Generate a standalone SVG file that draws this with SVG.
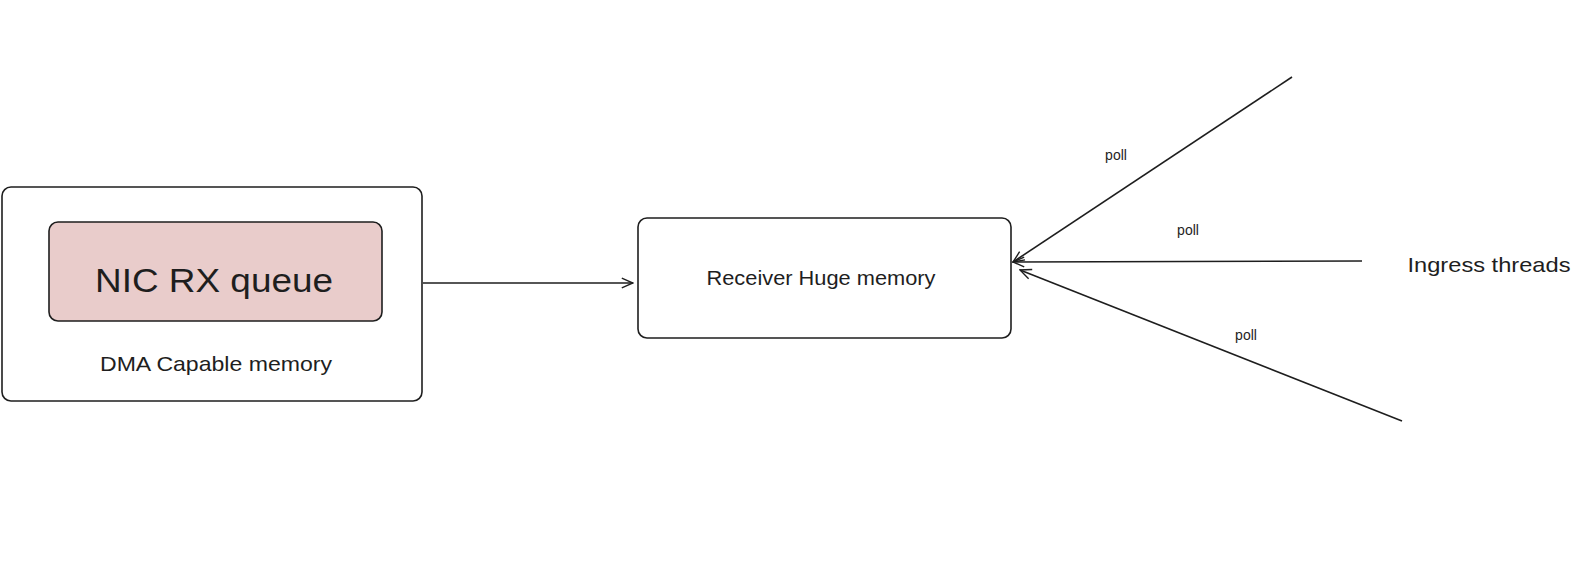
<svg xmlns="http://www.w3.org/2000/svg" width="1582" height="569" viewBox="0 0 1582 569">
<style>
.box{fill:#ffffff;stroke:#1e1e1e;stroke-width:1.6}
.t{font-family:"Liberation Sans",Arial,sans-serif;fill:#1e1e1e;text-anchor:middle}
.c{stroke:#1e1e1e;stroke-width:1.6;fill:none}
</style>
<defs>
<marker id="ah" viewBox="0 0 20 20" refX="18" refY="10" markerWidth="14" markerHeight="14" markerUnits="userSpaceOnUse" orient="auto">
<path d="M2,3 L18,10 L2,17" fill="none" stroke="#1e1e1e" stroke-width="2"/>
</marker>
</defs>
<rect width="1582" height="569" fill="#ffffff"/>
<g id="dma-node">
<rect class="box" x="2" y="187" width="420" height="214" rx="9"/>
<text class="t" x="216" y="371" font-size="21" textLength="232" lengthAdjust="spacingAndGlyphs">DMA Capable memory</text>
</g>
<g id="nic-node">
<rect x="49" y="222" width="333" height="99" rx="9" fill="#e9cccb" stroke="#1e1e1e" stroke-width="1.6"/>
<text class="t" x="214" y="292" font-size="33" textLength="238" lengthAdjust="spacingAndGlyphs">NIC RX queue</text>
</g>
<g id="receiver-node">
<rect class="box" x="638" y="218" width="373" height="120" rx="9"/>
<text class="t" x="821" y="285" font-size="20" textLength="229" lengthAdjust="spacingAndGlyphs">Receiver Huge memory</text>
</g>
<g id="ingress-node">
<text class="t" x="1489" y="272" font-size="21" textLength="163" lengthAdjust="spacingAndGlyphs">Ingress threads</text>
</g>
<g id="connectors">
<line class="c" x1="423" y1="283" x2="633" y2="283" marker-end="url(#ah)"/>
<line class="c" x1="1292" y1="77" x2="1013" y2="262" marker-end="url(#ah)"/>
<line class="c" x1="1362" y1="261" x2="1013" y2="262" marker-end="url(#ah)"/>
<line class="c" x1="1402" y1="421" x2="1020" y2="270" marker-end="url(#ah)"/>
<text class="t" x="1116" y="160" font-size="14">poll</text>
<text class="t" x="1188" y="235" font-size="14">poll</text>
<text class="t" x="1246" y="340" font-size="14">poll</text>
</g>
</svg>
